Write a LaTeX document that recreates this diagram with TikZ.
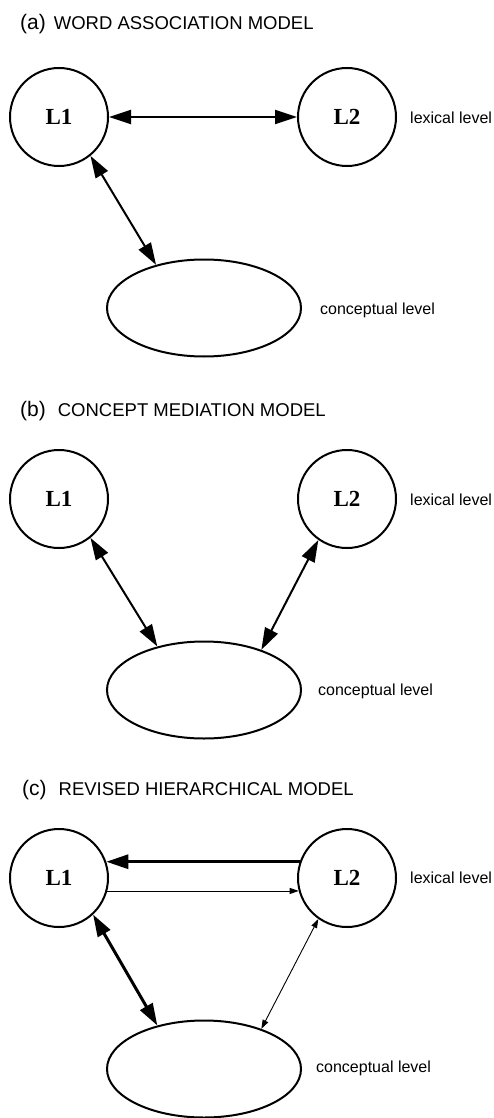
\documentclass[tikz,border=0pt]{standalone}
\usepackage{fontspec}
\setmainfont{Liberation Sans}
\newfontfamily\wordfont{Liberation Serif}
\usetikzlibrary{arrows.meta,shapes.geometric}

\newcommand{\paneltitle}[3]{{\fontsize{21}{21}\selectfont #1}\hspace{#2}{\fontsize{18.5}{18.5}\selectfont #3}}

\begin{document}
\begin{tikzpicture}[x=1pt,y=-1pt,
		lang/.style={circle,draw,line width=2pt,minimum size=98pt,inner sep=0pt,
			font=\wordfont\bfseries\fontsize{23}{23}\selectfont},
		concept/.style={ellipse,draw,line width=2pt,minimum width=194pt,minimum height=97pt},
		level/.style={anchor=west,inner sep=0pt,font=\fontsize{16}{16}\selectfont},
		title/.style={anchor=base west,inner sep=0pt},
		link/.style={line width=2pt,{Triangle[length=22pt,width=14pt]}-{Triangle[length=22pt,width=14pt]}},
		strong/.style={line width=3pt},
		weak/.style={line width=0.9pt,{Triangle[length=9pt,width=6pt]}-{Triangle[length=9pt,width=6pt]}}]
	\useasboundingbox (0,0) rectangle (494,1118); % keep the page at the reference size
	% (a) word association
	\node[title] (a-title) at (20,30) {\paneltitle{(a)}{8pt}{WORD ASSOCIATION MODEL}};
	\node[lang] (a-L1) at (59,117) {L1};
	\node[lang] (a-L2) at (347,117) {L2};
	\node[concept] (a-con) at (204,308) {};
	\node[level] (a-lex) at (410,118) {lexical level};
	\node[level] (a-cl) at (320,310) {conceptual level};
	\draw[link] (a-L1) -- (a-L2);
	\draw[link] (a-L1.-51) -- (a-con.138);
	% (b) concept mediation
	\node[title] (b-title) at (20,416) {\paneltitle{(b)}{12pt}{CONCEPT MEDIATION MODEL}};
	\node[lang] (b-L1) at (59,499) {L1};
	\node[lang] (b-L2) at (347,499) {L2};
	\node[concept] (b-con) at (204,690) {};
	\node[level] (b-lex) at (410,500) {lexical level};
	\node[level] (b-cl) at (318,691) {conceptual level};
	\draw[link] (b-L1.-51) -- (b-con.137);
	\draw[link] (b-L2.-125) -- (b-con.35);
	% (c) revised hierarchical
	\node[title] (c-title) at (22,795) {\paneltitle{(c)}{12pt}{REVISED HIERARCHICAL MODEL}};
	\node[lang] (c-L1) at (59,878) {L1};
	\node[lang] (c-L2) at (347,878) {L2};
	\node[concept] (c-con) at (204,1069) {};
	\node[level] (c-lex) at (410,878) {lexical level};
	\node[level] (c-cl) at (316,1068) {conceptual level};
	\draw[strong,-{Triangle[length=22pt,width=14pt]}] (c-L2.161) -- (c-L1.19);
	\draw[line width=0.9pt,-{Triangle[length=9pt,width=6pt]}] (c-L1.-15) -- (c-L2.-165);
	\draw[link,strong] (c-L1.-47) -- (c-con.137);
	\draw[weak] (c-L2.-125) -- (c-con.35);
\end{tikzpicture}
\end{document}
